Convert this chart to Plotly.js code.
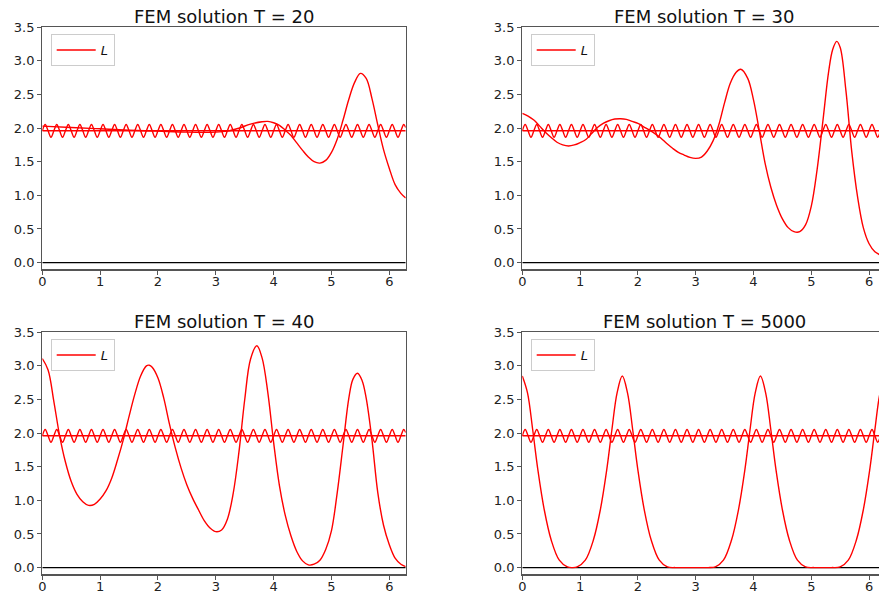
<!DOCTYPE html>
<html><head><meta charset="utf-8">
<script src="https://cdn.plot.ly/plotly-3.0.1.min.js"></script>
<style>html,body{margin:0;padding:0;background:#fff}#chart{width:879px;height:596px}</style>
</head><body><div id="chart"></div>
<script>
// Initial condition (oscillating), read at quarter periods
const xWave = [0,0.05,0.1,0.15,0.2,0.25,0.3,0.35,0.4,0.45,0.5,0.55,0.6,0.65,0.7,0.75,0.8,0.85,0.9,0.95,1,1.05,1.1,1.15,1.2,1.25,1.3,1.35,1.4,1.45,1.5,1.55,1.6,1.65,1.7,1.75,1.8,1.85,1.9,1.95,2,2.05,2.1,2.15,2.2,2.25,2.3,2.35,2.4,2.45,2.5,2.55,2.6,2.65,2.7,2.75,2.8,2.85,2.9,2.95,3,3.05,3.1,3.15,3.2,3.25,3.3,3.35,3.4,3.45,3.5,3.55,3.6,3.65,3.7,3.75,3.8,3.85,3.9,3.95,4,4.05,4.1,4.15,4.2,4.25,4.3,4.35,4.4,4.45,4.5,4.55,4.6,4.65,4.7,4.75,4.8,4.85,4.9,4.95,5,5.05,5.1,5.15,5.2,5.25,5.3,5.35,5.4,5.45,5.5,5.55,5.6,5.65,5.7,5.75,5.8,5.85,5.9,5.95,6,6.05,6.1,6.15,6.2,6.25,6.2832];
const yWave = [1.96,2.055,1.96,1.865,1.96,2.055,1.96,1.865,1.96,2.055,1.96,1.865,1.96,2.055,1.96,1.865,1.96,2.055,1.96,1.865,1.96,2.055,1.96,1.865,1.96,2.055,1.96,1.865,1.96,2.055,1.96,1.865,1.96,2.055,1.96,1.865,1.96,2.055,1.96,1.865,1.96,2.055,1.96,1.865,1.96,2.055,1.96,1.865,1.96,2.055,1.96,1.865,1.96,2.055,1.96,1.865,1.96,2.055,1.96,1.865,1.96,2.055,1.96,1.865,1.96,2.055,1.96,1.865,1.96,2.055,1.96,1.865,1.96,2.055,1.96,1.865,1.96,2.055,1.96,1.865,1.96,2.055,1.96,1.865,1.96,2.055,1.96,1.865,1.96,2.055,1.96,1.865,1.96,2.055,1.96,1.865,1.96,2.055,1.96,1.865,1.96,2.055,1.96,1.865,1.96,2.055,1.96,1.865,1.96,2.055,1.96,1.865,1.96,2.055,1.96,1.865,1.96,2.055,1.96,1.865,1.96,2.055,1.96,1.865,1.96,2.055,2.008];
// Steady state level and zero line
const xSteady = [0, 6.2832];
const ySteady = [1.96, 1.96];
const xZero = [0, 6.2832];
const yZero = [0, 0];
// FEM solutions
const xT20 = [0,0.5,1,1.5,2,2.5,3,3.2,3.4,3.6,3.8,3.9,4.0,4.1,4.2,4.3,4.4,4.5,4.6,4.7,4.8,4.9,5.0,5.1,5.2,5.3,5.4,5.5,5.6,5.7,5.8,5.9,6.0,6.1,6.2,6.2832];
const yT20 = [2.03,2.01,1.99,1.97,1.955,1.94,1.94,1.955,2.0,2.06,2.095,2.10,2.08,2.04,1.97,1.89,1.78,1.67,1.57,1.50,1.48,1.52,1.64,1.84,2.12,2.43,2.68,2.815,2.74,2.44,2.05,1.68,1.40,1.16,1.03,0.96];
const xT30 = [0,0.1,0.2,0.3,0.4,0.5,0.6,0.7,0.8,0.9,1.0,1.1,1.2,1.3,1.4,1.5,1.6,1.7,1.8,1.9,2.0,2.1,2.2,2.3,2.4,2.5,2.6,2.7,2.8,2.9,3.0,3.1,3.2,3.3,3.4,3.5,3.6,3.7,3.78,3.9,4.0,4.1,4.2,4.3,4.4,4.5,4.6,4.7,4.8,4.9,5.0,5.1,5.2,5.3,5.37,5.44,5.5,5.6,5.7,5.8,5.9,6.0,6.1,6.2,6.2832];
const yT30 = [2.22,2.18,2.12,2.03,1.94,1.86,1.79,1.75,1.735,1.75,1.785,1.83,1.92,2.01,2.07,2.11,2.135,2.14,2.13,2.10,2.07,2.02,1.97,1.915,1.85,1.77,1.70,1.64,1.60,1.565,1.55,1.57,1.66,1.81,2.05,2.38,2.67,2.83,2.875,2.74,2.42,1.96,1.48,1.12,0.85,0.65,0.52,0.46,0.46,0.56,0.84,1.38,2.10,2.84,3.17,3.29,3.2,2.55,1.65,0.98,0.52,0.28,0.16,0.11,0.08];
const xT40 = [0,0.1,0.2,0.3,0.4,0.5,0.6,0.7,0.8,0.9,1.0,1.1,1.2,1.3,1.4,1.5,1.6,1.7,1.8,1.85,1.9,2.0,2.1,2.2,2.3,2.4,2.5,2.6,2.7,2.8,2.9,3.0,3.1,3.2,3.3,3.4,3.5,3.6,3.71,3.8,3.9,4.0,4.1,4.2,4.3,4.4,4.5,4.6,4.7,4.8,4.9,5.0,5.1,5.2,5.3,5.37,5.45,5.53,5.6,5.7,5.8,5.9,6.0,6.1,6.2,6.2832];
const yT40 = [3.11,2.94,2.47,1.96,1.57,1.28,1.09,0.98,0.925,0.94,1.02,1.14,1.33,1.60,1.90,2.25,2.58,2.85,3.00,3.01,2.98,2.82,2.52,2.13,1.78,1.48,1.23,1.03,0.86,0.70,0.59,0.535,0.56,0.72,1.10,1.72,2.50,3.10,3.30,3.12,2.60,1.86,1.22,0.78,0.47,0.24,0.10,0.04,0.05,0.11,0.27,0.55,1.12,1.82,2.52,2.80,2.89,2.78,2.52,1.90,1.12,0.63,0.34,0.14,0.05,0.015];
const xT5000 = [0,0.09,0.18,0.27,0.38,0.50,0.64,0.78,0.865,0.95,1.09,1.23,1.35,1.46,1.55,1.64,1.73,1.82,1.91,2.00,2.11,2.23,2.37,2.51,2.65,2.8,2.95,3.1,3.22,3.34,3.48,3.62,3.74,3.85,3.94,4.03,4.12,4.21,4.30,4.39,4.50,4.62,4.76,4.90,5.05,5.2,5.35,5.50,5.64,5.78,5.90,6.01,6.10,6.19,6.2832];
const yT5000 = [2.85,2.6,2.05,1.45,0.86,0.41,0.11,0.01,0.0,0.01,0.11,0.41,0.86,1.45,2.05,2.6,2.85,2.6,2.05,1.45,0.86,0.41,0.11,0.01,0,0,0,0,0,0.01,0.11,0.41,0.86,1.45,2.05,2.6,2.85,2.6,2.05,1.45,0.86,0.41,0.11,0.01,0,0,0,0.01,0.11,0.41,0.86,1.45,2.05,2.6,2.85];
const titles = ['FEM solution T = 20','FEM solution T = 30','FEM solution T = 40','FEM solution T = 5000'];
const legendLabel = '<i>L</i>';
const xTicks = [0,1,2,3,4,5,6];
const yTicks = [0,0.5,1,1.5,2,2.5,3,3.5];
const yTickText = ['0.0','0.5','1.0','1.5','2.0','2.5','3.0','3.5'];

const W = 879, H = 596;
const sols = [[xT20,yT20],[xT30,yT30],[xT40,yT40],[xT5000,yT5000]];
// panel geometry in pixels
const geo = [
  {l:42.3, r:405.7, t:27.3, b:269.3, xmax:6.2832, right:true, cx:224},
  {l:522.3, r:879, t:27.3, b:269.3, xmax:(879-522.3)/57.8, right:false, cx:704},
  {l:42.3, r:405.7, t:332.3, b:574.3, xmax:6.2832, right:true, cx:224},
  {l:522.3, r:879, t:332.3, b:574.3, xmax:(879-522.3)/57.8, right:false, cx:704}
];
const font = {family:'DejaVu Sans, sans-serif', size:13, color:'#222'};
const spine = '#555';
const traces = [];
const layout = {
  width:W, height:H, autosize:false,
  margin:{l:0,r:0,t:0,b:0,pad:0},
  paper_bgcolor:'#fff', plot_bgcolor:'#fff',
  showlegend:true, annotations:[]
};
geo.forEach((g,i)=>{
  const n = i===0 ? '' : String(i+1);
  const xa = 'x'+n, ya = 'y'+n, lg = 'legend'+n;
  const common = {xaxis:xa, yaxis:ya, mode:'lines', hoverinfo:'skip'};
  traces.push(Object.assign({x:xZero, y:yZero, line:{color:'black', width:1.4}, showlegend:false}, common));
  traces.push(Object.assign({x:xWave, y:yWave, line:{color:'red', width:1.4, shape:'spline', smoothing:1}, showlegend:false}, common));
  traces.push(Object.assign({x:xSteady, y:ySteady, line:{color:'red', width:1.4}, showlegend:false}, common));
  traces.push(Object.assign({x:sols[i][0], y:sols[i][1], name:legendLabel, legend:lg, showlegend:true,
    line:{color:'red', width:1.4, shape:'spline', smoothing:1}}, common));
  layout['xaxis'+n] = {
    domain:[g.l/W, g.r/W], anchor:ya, range:[0,g.xmax], tickvals:xTicks, ticktext:xTicks.map(String),
    ticks:'outside', ticklen:4, tickwidth:1, tickcolor:spine, showline:true, linecolor:spine, linewidth:1.2,
    mirror:true, showgrid:false, zeroline:false, tickfont:font, fixedrange:true, ticklabelstandoff:-4
  };
  layout['yaxis'+n] = {
    domain:[(H-g.b)/H, (H-g.t)/H], anchor:xa, range:[-0.1,3.5], tickvals:yTicks, ticktext:yTickText,
    ticks:'outside', ticklen:4, tickwidth:1, tickcolor:spine, showline:true, linecolor:spine, linewidth:1.2,
    mirror:g.right, showgrid:false, zeroline:false, tickfont:font, fixedrange:true
  };
  layout[lg] = {
    x:(g.l+8.4)/W, y:(H-g.t-6.7)/H, xanchor:'left', yanchor:'top', xref:'paper', yref:'paper',
    bgcolor:'rgba(255,255,255,0.8)', bordercolor:'#cccccc', borderwidth:1,
    font:{family:'DejaVu Sans, sans-serif', size:13, color:'#111'}, itemwidth:39, tracegroupgap:0
  };
  layout.annotations.push({
    text:titles[i], xref:'paper', yref:'paper', x:g.cx/W, y:(H-g.t)/H, xanchor:'center', yanchor:'bottom',
    showarrow:false, yshift:-2, font:{family:'DejaVu Sans, sans-serif', size:18, color:'#111'}
  });
});
Plotly.newPlot('chart', traces, layout, {staticPlot:true, displayModeBar:false});
</script>
</body></html>
